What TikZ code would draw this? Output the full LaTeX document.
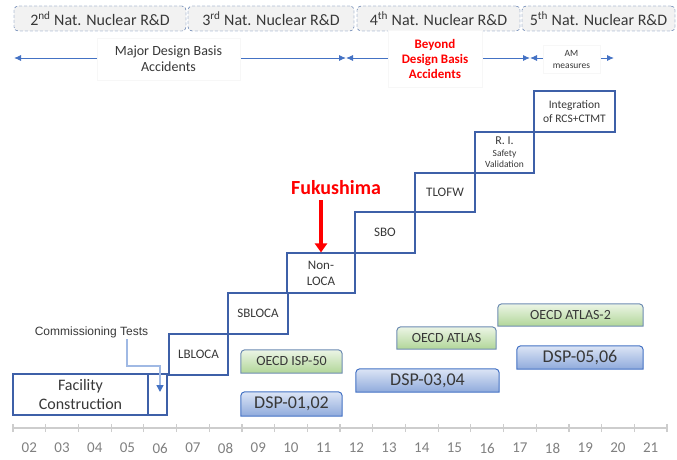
\documentclass[tikz,border=0pt]{standalone}
\usepackage{fontspec}
\setmainfont{Carlito}
\newfontfamily\arialfont{Liberation Sans}
\usetikzlibrary{arrows.meta,backgrounds}
\definecolor{StairBlue}{RGB}{62,96,168}
\definecolor{SpanBlue}{RGB}{68,114,196}
\definecolor{FeedBlue}{RGB}{160,185,228}
\definecolor{PhaseGray}{RGB}{242,242,242}
\definecolor{PhaseBlue}{RGB}{47,85,151}
\definecolor{InkGray}{RGB}{56,56,56}
\definecolor{YearGray}{RGB}{128,128,128}
\definecolor{AxisGray}{RGB}{205,205,205}
\definecolor{ShockRed}{RGB}{255,0,0}
\definecolor{GreenTop}{RGB}{236,245,230}
\definecolor{GreenBot}{RGB}{177,214,152}
\definecolor{GreenEdge}{RGB}{110,140,178}
\definecolor{BlueTop}{RGB}{220,229,245}
\definecolor{BlueBot}{RGB}{143,170,220}
\tikzset{
  phase/.style={draw=PhaseBlue,densely dashed,fill=PhaseGray,rounded corners=4pt,
    minimum height=25pt,inner sep=0pt,text=InkGray,font=\fontsize{16}{18}\selectfont},
  span/.style={draw=SpanBlue,line width=0.9pt,{Latex[length=7pt,width=6pt]}-{Latex[length=7pt,width=6pt]}},
  tag/.style={fill=white,draw=black!3,line width=0.4pt,inner sep=0pt,align=center,text=InkGray},
  stair/.style={draw=StairBlue,line width=1.1pt,fill=white,inner sep=0pt,align=center,
    text=InkGray,font=\fontsize{13}{16}\selectfont},
}
\tikzset{tab/.style={inner sep=0pt,text=InkGray,font=\fontsize{14}{16}\selectfont},
  tabgreen/.style={top color=GreenTop,bottom color=GreenBot,draw=GreenEdge,line width=1pt},
  tabblue/.style={top color=BlueTop,bottom color=BlueBot,draw=SpanBlue,line width=1pt},
  feed/.style={draw=FeedBlue,line width=1.4pt,-{Triangle[length=7pt,width=7pt,color=SpanBlue]}},
  shock/.style={draw=ShockRed,line width=4.5pt,-{Triangle[length=9pt,width=12pt]}},
  axis/.style={draw=AxisGray,line width=1.2pt},
  yr/.style={text=YearGray,font=\fontsize{15}{18}\selectfont}}

\begin{document}
\begin{tikzpicture}[x=1pt,y=1pt]
\useasboundingbox (0,0) rectangle (677,459);
% R&D phases
\node[phase,minimum width=172pt] (ph2) at (100,440.5) {2\textsuperscript{nd} Nat. Nuclear R\&D};
\node[phase,minimum width=166pt] (ph3) at (271,440.5) {3\textsuperscript{rd} Nat. Nuclear R\&D};
\node[phase,minimum width=163pt] (ph4) at (438.5,440.5) {4\textsuperscript{th} Nat. Nuclear R\&D};
\node[phase,minimum width=153pt] (ph5) at (598.5,440.5) {5\textsuperscript{th} Nat. Nuclear R\&D};
% accident classes
\coordinate (s0) at (14,401);
\coordinate (s1) at (346,401);
\coordinate (s2) at (530,401);
\coordinate (s3) at (614,401);
\draw[span] (s0) -- (s1);
\draw[span] (s1) -- (s2);
\draw[span] (s2) -- (s3);
\node[tag,minimum width=143pt,minimum height=42pt,font=\fontsize{14}{16}\selectfont] (dba) at (168.5,400) {Major Design Basis\\Accidents};
\node[tag,minimum width=94pt,minimum height=57pt,text=ShockRed,font=\bfseries\fontsize{13}{15}\selectfont] (bdba) at (435,400.5) {Beyond\\Design Basis\\Accidents};
\node[tag,minimum width=57pt,minimum height=28pt,font=\fontsize{9.5}{12}\selectfont] (am) at (571.5,400) {AM\\measures};
% test stairs
\node[stair,minimum width=135pt,minimum height=41pt,font=\fontsize{16}{19}\selectfont] (fac) at (80.5,64.5) {Facility\\Construction};
\node[stair,minimum width=19pt,minimum height=41pt] (comm) at (157.5,64.5) {};
\node[stair,minimum width=59pt,minimum height=41pt] (lbloca) at (198.5,104.5) {LBLOCA};
\node[stair,minimum width=60pt,minimum height=41pt] (sbloca) at (258,145.5) {SBLOCA};
\node[stair,minimum width=68pt,minimum height=40pt] (nonloca) at (321,186) {Non-\\LOCA};
\node[stair,minimum width=60pt,minimum height=41pt] (sbo) at (385,226.5) {SBO};
\node[stair,minimum width=60pt,minimum height=39pt] (tlofw) at (445,266.5) {TLOFW};
\node[stair,minimum width=59pt,minimum height=41pt,font=\fontsize{9.5}{11.5}\selectfont] (rival) at (504.5,306.5) {{\fontsize{12}{12}\selectfont R. I.}\\Safety\\Validation};
\node[stair,minimum width=81pt,minimum height=41pt,font=\fontsize{11.5}{13.5}\selectfont] (integ) at (574.5,347.5) {Integration\\of RCS+CTMT};
% commissioning
\node[text=InkGray,font=\arialfont\fontsize{12}{14}\selectfont] (ctxt) at (91.5,127) {Commissioning Tests};
\coordinate (cStart) at (127,120);
\coordinate (cEnd) at (160,67);
\draw[feed] (cStart) -- ++(0,-27) -| (cEnd);
% Fukushima
\node[text=ShockRed,font=\bfseries\fontsize{20}{24}\selectfont] (fuku) at (336,271) {Fukushima};
\coordinate (fTop) at (321,259);
\draw[shock] (fTop) -- (nonloca.north);
% international programmes
\node[tab,minimum width=101pt,minimum height=23pt] (isp50) at (291.5,97.5) {OECD ISP-50};
\node[tab,minimum width=99pt,minimum height=22pt] (atlas) at (446.5,121) {OECD ATLAS};
\node[tab,minimum width=145pt,minimum height=22pt] (atlas2) at (570.5,144) {OECD ATLAS-2};
\node[tab,minimum width=101pt,minimum height=24pt,font=\fontsize{18}{20}\selectfont] (dsp12) at (291.5,55) {DSP-01,02};
\node[tab,minimum width=143pt,minimum height=23pt,font=\fontsize{18}{20}\selectfont] (dsp34) at (427.5,78.5) {DSP-03,04};
\node[tab,minimum width=126pt,minimum height=23pt,font=\fontsize{18}{20}\selectfont] (dsp56) at (580,101.5) {DSP-05,06};
\begin{scope}[on background layer]
\foreach \n/\c in {isp50/green,atlas/green,atlas2/green,dsp12/blue,dsp34/blue,dsp56/blue}
  \shadedraw[tab\c] (\n.south west) [rounded corners=4pt] -- (\n.north west) -- (\n.north east) [sharp corners] -- (\n.south east) -- cycle;
\end{scope}
% years
\draw[axis] (13,31) -- (667,31);
\foreach \i in {0,...,20}
  \draw[axis] (13+32.7*\i,27) -- (13+32.7*\i,35);
\foreach \i in {0,...,19}{
  \pgfmathtruncatemacro\yr{\i+2}
  \node[yr] (y\i) at (29.35+32.7*\i,11) {\ifnum\yr<10 0\fi\yr};
}
\end{tikzpicture}
\end{document}
